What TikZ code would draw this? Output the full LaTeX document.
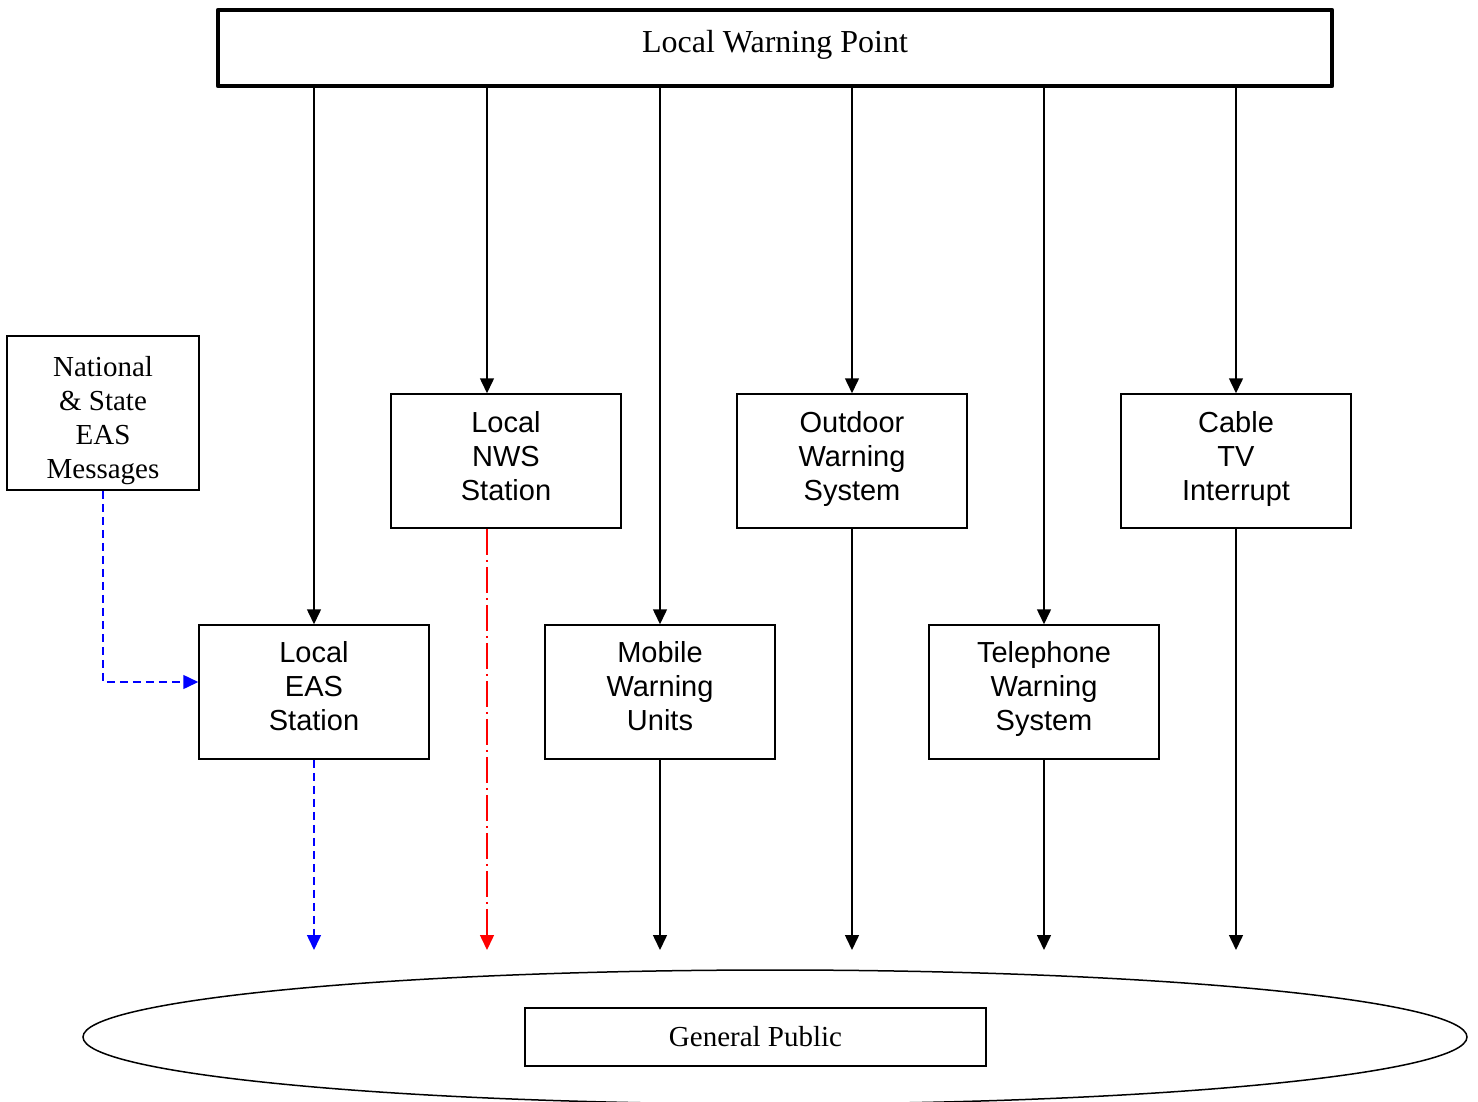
\documentclass[tikz,border=0pt]{standalone}
\usepackage{fontspec}
\setmainfont{Liberation Serif}
\newfontfamily\arialfont{Liberation Sans}
\usetikzlibrary{arrows.meta,calc,shapes.geometric}
\begin{document}
\begin{tikzpicture}[x=1pt,y=-1pt,
  box/.style={draw, line width=1.5pt, minimum width=230pt, minimum height=134pt, inner sep=0pt, align=center,
    font=\arialfont\fontsize{29}{34}\selectfont},
  serifbox/.style={draw, line width=1.5pt, inner sep=0pt, align=center, font=\fontsize{29}{34}\selectfont},
  arr/.style={line width=1.5pt, -{Triangle[length=15pt,width=14pt]}},
  bluearr/.style={arr, blue, dash pattern=on 8pt off 5pt},
  redarr/.style={arr, red, dash pattern=on 26pt off 5pt on 2pt off 5pt}]
\useasboundingbox (0,0) rectangle (1478,1101);
% ellipse for the public
\node[draw, ellipse, line width=1.5pt, minimum width=1384pt, minimum height=134pt, inner sep=0pt] (pub) at (775,1037) {};
\node[serifbox, minimum width=461pt, minimum height=58pt] (gp) at (755.5,1037) {General Public};
% top box
\node[draw, line width=4.5pt, line join=round, minimum width=1114pt, minimum height=76pt, inner sep=0pt,
  font=\fontsize{32}{36}\selectfont] (lwp) at (775,48) {Local Warning Point\rule[-14pt]{0pt}{0pt}};
% national
\node[serifbox, minimum width=192pt, minimum height=154pt] (nat) at (103,413) {\rule{0pt}{36pt}National\\\& State\\EAS\\Messages};
% upper row
\node[box] (nws) at (506,461) {Local\\NWS\\Station\rule[-10pt]{0pt}{0pt}};
\node[box] (out) at (852,461) {Outdoor\\Warning\\System\rule[-10pt]{0pt}{0pt}};
\node[box] (cab) at (1236,461) {Cable\\TV\\Interrupt\rule[-10pt]{0pt}{0pt}};
% lower row
\node[box] (eas) at (314,692) {Local\\EAS\\Station\rule[-12pt]{0pt}{0pt}};
\node[box] (mob) at (660,692) {Mobile\\Warning\\Units\rule[-12pt]{0pt}{0pt}};
\node[box] (tel) at (1044,692) {Telephone\\Warning\\System\rule[-12pt]{0pt}{0pt}};
% helper coordinates
\coordinate (bot) at (0,950);
\coordinate (nwsin) at ($(nws.north)+(-19,0)$);
\coordinate (nwsout) at ($(nws.south)+(-19,0)$);
\coordinate (easin) at ($(eas.west)+(0,-10)$);
% from the warning point
\draw[arr] (lwp.south -| eas.north) -- (eas.north);
\draw[arr] (lwp.south -| nwsin) -- (nwsin);
\draw[arr] (lwp.south -| mob.north) -- (mob.north);
\draw[arr] (lwp.south -| out.north) -- (out.north);
\draw[arr] (lwp.south -| tel.north) -- (tel.north);
\draw[arr] (lwp.south -| cab.north) -- (cab.north);
% national to local EAS
\draw[bluearr] (nat.south) |- (easin);
% to the public
\draw[bluearr] (eas.south) -- (eas.south |- bot);
\draw[redarr] (nwsout) -- (nwsout |- bot);
\draw[arr] (mob.south) -- (mob.south |- bot);
\draw[arr] (out.south) -- (out.south |- bot);
\draw[arr] (tel.south) -- (tel.south |- bot);
\draw[arr] (cab.south) -- (cab.south |- bot);
\end{tikzpicture}
\end{document}
